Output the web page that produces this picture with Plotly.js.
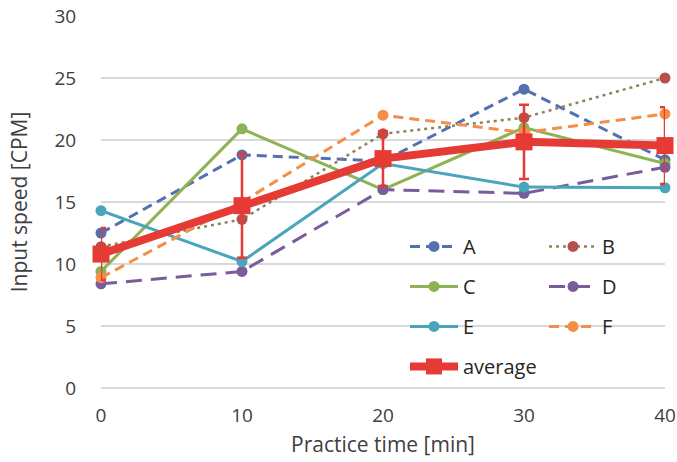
<!DOCTYPE html>
<html>
<head>
<meta charset="utf-8">
<script src="https://cdn.plot.ly/plotly-3.0.1.min.js"></script>
<style>html,body{margin:0;padding:0;background:#fff;}#chart{width:677px;height:462px;}</style>
</head>
<body>
<div id="chart"></div>
<script>
// Practice time (min)
const times = [0, 10, 20, 30, 40];
// Input speed (CPM) per participant
const seriesA = [12.5, 18.8, 18.3, 24.1, 18.4];
const seriesB = [11.4, 13.6, 20.5, 21.8, 25.0];
const seriesC = [9.4, 20.9, 16.0, 21.0, 18.1];
const seriesD = [8.4, 9.4, 16.0, 15.7, 17.8];
const seriesE = [14.3, 10.2, 18.1, 16.2, 16.15];
const seriesF = [8.9, 15.0, 22.0, 20.6, 22.1];
const average = [10.8, 14.7, 18.5, 19.85, 19.55];
const averageErr = [2.1, 4.2, 2.2, 3.0, 3.1];
const yTicks = [0, 5, 10, 15, 20, 25, 30];
const xTicks = [0, 10, 20, 30, 40];

function tr(name, y, lineColor, markerColor, dash, width, legend) {
  return {
    x: times, y: y, name: name, type: 'scatter', mode: 'lines+markers',
    line: {color: lineColor, width: width, dash: dash},
    marker: {color: markerColor, size: 11, symbol: 'circle'},
    cliponaxis: false, legend: legend, legendgroup: name
  };
}

const data = [
  tr('A', seriesA, '#5470B0', '#5470B0', '10px,6px', 3, 'legend'),
  tr('B', seriesB, '#8A8458', '#B5504C', '3px,4px', 2.5, 'legend2'),
  tr('C', seriesC, '#8DB354', '#8DB354', 'solid', 3, 'legend'),
  tr('D', seriesD, '#7A5C9B', '#7A5C9B', '16px,9px', 3, 'legend2'),
  tr('E', seriesE, '#48A5BA', '#48A5BA', 'solid', 3, 'legend'),
  tr('F', seriesF, '#F58E46', '#F58E46', '10px,6px', 3, 'legend2'),
  {
    x: times, y: average, name: 'average', type: 'scatter', mode: 'lines+markers',
    line: {color: '#E63A35', width: 8},
    marker: {color: '#E63A35', size: 17, symbol: 'square'},
    error_y: {type: 'data', array: averageErr, visible: true, color: '#E63A35', thickness: 2.5, width: 5},
    cliponaxis: false, legend: 'legend', legendgroup: 'average'
  }
];

const legendCommon = {
  font: {family: 'Open Sans, sans-serif', size: 20, color: '#262626'},
  bgcolor: 'rgba(255,255,255,0)', borderwidth: 0,
  itemwidth: 48, traceorder: 'grouped', tracegroupgap: 11,
  xanchor: 'left', yanchor: 'top'
};

const layout = {
  width: 677, height: 462,
  margin: {l: 101, r: 12, t: 16, b: 74},
  paper_bgcolor: '#ffffff', plot_bgcolor: '#ffffff',
  font: {family: 'Open Sans, sans-serif', color: '#404040'},
  showlegend: true,
  xaxis: {
    range: [0, 40], tickvals: xTicks, ticktext: xTicks.map(String),
    showgrid: false, zeroline: false, showline: false,
    ticks: 'outside', ticklen: 10, tickcolor: 'rgba(0,0,0,0)',
    tickfont: {size: 19, color: '#404040'},
    title: {text: 'Practice time [min]', font: {size: 21, color: '#404040'}, standoff: 10}
  },
  yaxis: {
    range: [0, 30], tickvals: yTicks, ticktext: yTicks.map(String),
    showgrid: true, gridcolor: '#D9D9D9', gridwidth: 2,
    zeroline: true, zerolinecolor: '#D9D9D9', zerolinewidth: 2, showline: false,
    ticks: 'outside', ticklen: 20, tickcolor: 'rgba(0,0,0,0)',
    tickfont: {size: 19, color: '#404040'},
    title: {text: 'Input speed [CPM]', font: {size: 21, color: '#404040'}, standoff: 21}
  },
  legend: Object.assign({}, legendCommon, {x: 0.539, y: 0.433}),
  legend2: Object.assign({}, legendCommon, {x: 0.7855, y: 0.433})
};

Plotly.newPlot('chart', data, layout, {displayModeBar: false, staticPlot: true});
</script>
</body>
</html>
